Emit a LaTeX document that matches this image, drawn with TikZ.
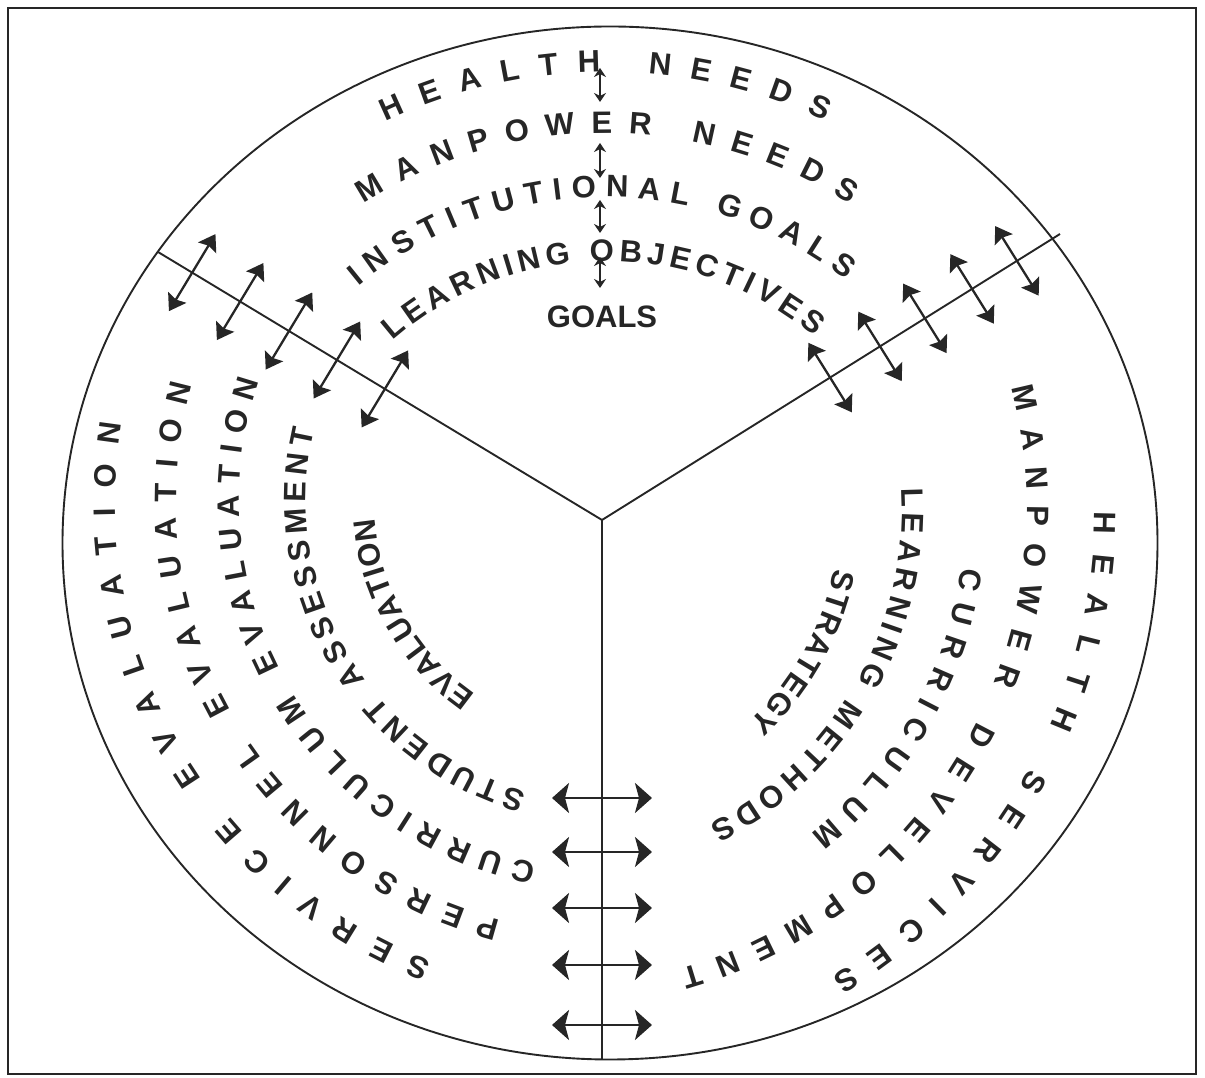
\documentclass[tikz,border=0pt]{standalone}
\usepackage{fontspec}
\setmainfont{Liberation Sans}
\usetikzlibrary{decorations.text,arrows.meta,calc}
\definecolor{ink}{gray}{0.15}
\newcommand\arcfont{\fontsize{31}{36}\selectfont\bfseries}
\newcommand\arcfmt{\arcfont\color{ink}}
\tikzset{
  arctext/.style={decorate, decoration={text along path, text align={fit to path}, raise=-11.1pt}},
  rule/.style={draw=ink, line width=1.9pt},
  topar/.style={draw=ink, line width=1.5pt, arrows={Stealth[length=9pt,width=12pt]-Stealth[length=9pt,width=12pt]}},
  diagar/.style={draw=ink, line width=2.3pt, arrows={Stealth[length=16pt,width=21pt,inset=2.5pt]-Stealth[length=16pt,width=21pt,inset=2.5pt]}},
  botar/.style={draw=ink, line width=2.8pt, arrows={Stealth[length=17pt,width=30pt,inset=4pt]-Stealth[length=17pt,width=30pt,inset=4pt]}},
}
\begin{document}
\begin{tikzpicture}[x=1pt,y=1pt]
\useasboundingbox (0,0) rectangle (1205,1078);
\draw[draw=ink, line width=2.4pt] (8,4) rectangle (1196,1070);
\draw[rule] (610,535) ellipse [x radius=547.5, y radius=516.5];
\coordinate (O) at (602,558);
\coordinate (UL) at (158,826);
\coordinate (UR) at (1060,844);
\coordinate (B) at (602,18);
\draw[rule] (O) -- (UL);
\draw[rule] (O) -- (UR);
\draw[rule] (O) -- (B);

% ---------- top sector ----------
\begin{scope}[shift={(606,493)}]
\path[arctext, decoration={text={|\arcfmt|HEALTH NEEDS}}] (115.45:524) arc[start angle=115.45, end angle=64.75, radius=524];
\path[arctext, decoration={text={|\arcfmt|MANPOWER NEEDS}}] (122.35:463) arc[start angle=122.35, end angle=57.4, radius=463];
\path[arctext, decoration={text={|\arcfmt|INSTITUTIONAL GOALS}}] (129.6:399) arc[start angle=129.6, end angle=51.85, radius=399];
\path[arctext, decoration={text={|\arcfmt|LEARNING OBJECTIVES}}] (131.05:335) arc[start angle=131.05, end angle=50.1, radius=335];
\end{scope}
\node[font=\arcfont, text=ink] (goals) at (602,761) {GOALS};

% ---------- left sector ----------
\begin{scope}[shift={(610,578)}]
\path[arctext, decoration={text={|\arcfmt|SERVICE EVALUATION}}] (248.85:506) arc[start angle=248.85, end angle=171.1, radius=506];
\path[arctext, decoration={text={|\arcfmt|PERSONNEL EVALUATION}}] (255.4:445) arc[start angle=255.4, end angle=164.6, radius=445];
\path[arctext, decoration={text={|\arcfmt|CURRICULUM EVALUATION}}] (258.5:382) arc[start angle=258.5, end angle=161.3, radius=382];
\path[arctext, decoration={text={|\arcfmt|STUDENT ASSESSMENT}}] (253.9:315) arc[start angle=253.9, end angle=166.8, radius=315];
\path[arctext, decoration={text={|\arcfmt|EVALUATION}}] (235.2:247) arc[start angle=235.2, end angle=184.6, radius=247];
\end{scope}

% ---------- right sector ----------
\begin{scope}[shift={(548,569)}]
\path[arctext, decoration={text={|\arcfmt|HEALTH SERVICES}}] (-0.3:558) arc[start angle=-0.3, end angle=-58.7, radius=558];
\path[arctext, decoration={text={|\arcfmt|MANPOWER DEVELOPMENT}}] (14.6:490) arc[start angle=14.6, end angle=-73.9, radius=490];
\path[arctext, decoration={text={|\arcfmt|CURRICULUM}}] (-8.1:429) arc[start angle=-8.1, end angle=-51.05, radius=429];
\path[arctext, decoration={text={|\arcfmt|LEARNING METHODS}}] (3.3:365) arc[start angle=3.3, end angle=-62.8, radius=365];
\path[arctext, decoration={text={|\arcfmt|STRATEGY}}] (-11.8:304) arc[start angle=-11.8, end angle=-46.7, radius=304];
\end{scope}

% ---------- top vertical arrows ----------
\coordinate (ta1) at (600,1010); \coordinate (tb1) at (600,976);
\coordinate (ta2) at (600,935);  \coordinate (tb2) at (600,900);
\coordinate (ta3) at (600,878);  \coordinate (tb3) at (600,845);
\coordinate (ta4) at (600,821);  \coordinate (tb4) at (600,790);
\foreach \i in {1,2,3,4} { \draw[topar] (ta\i) -- (tb\i); }

% ---------- left diagonal arrows ----------
\foreach \pos [count=\i] in {0.923,0.815,0.705,0.597,0.489} {
  \coordinate (lc\i) at ($(O)!\pos!(UL)$);
  \coordinate (la\i) at ($(lc\i)!45pt!90:(UL)$);
  \coordinate (lb\i) at ($(lc\i)!45pt!-90:(UL)$);
  \draw[diagar] (la\i) -- (lb\i);
}

% ---------- right diagonal arrows ----------
\foreach \pos [count=\i] in {0.498,0.607,0.705,0.808,0.906} {
  \coordinate (rc\i) at ($(O)!\pos!(UR)$);
  \coordinate (ra\i) at ($(rc\i)!41pt!90:(UR)$);
  \coordinate (rb\i) at ($(rc\i)!41pt!-90:(UR)$);
  \draw[diagar] (ra\i) -- (rb\i);
}

% ---------- bottom horizontal arrows ----------
\foreach \yy [count=\i] in {280,226,170,113,53} {
  \coordinate (ba\i) at (552,\yy);
  \coordinate (bb\i) at (652,\yy);
  \draw[botar] (ba\i) -- (bb\i);
}
\end{tikzpicture}
\end{document}
